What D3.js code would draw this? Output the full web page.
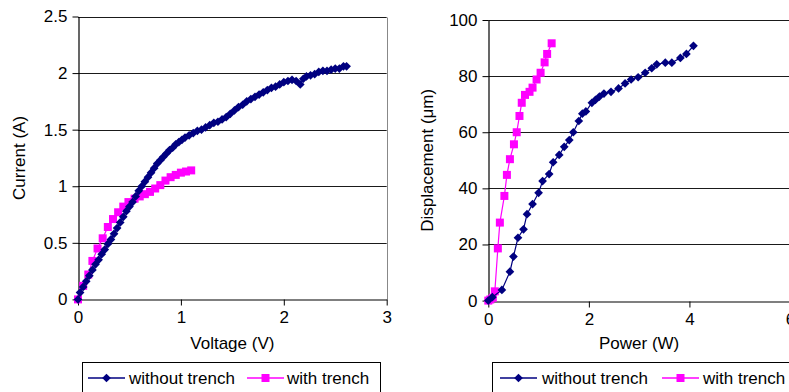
<!DOCTYPE html>
<html>
<head>
<meta charset="utf-8">
<script src="https://cdn.jsdelivr.net/npm/d3@7"></script>
<style>
  html, body { margin: 0; padding: 0; background: #fff; }
  svg { display: block; font-family: "Liberation Sans", Arial, Helvetica, sans-serif; }
</style>
</head>
<body>
<svg id="chart" width="789" height="392"></svg>
<script>
// ---- Current vs voltage ----
const ivWithout = [
  [0, 0], [0.02, 0.06], [0.05, 0.11], [0.08, 0.16], [0.11, 0.21], [0.14, 0.26],
  [0.17, 0.31], [0.20, 0.35], [0.23, 0.40], [0.26, 0.44], [0.29, 0.49], [0.32, 0.53],
  [0.35, 0.58], [0.38, 0.63], [0.41, 0.68], [0.44, 0.73], [0.47, 0.78], [0.50, 0.82],
  [0.53, 0.86], [0.56, 0.91], [0.59, 0.96], [0.62, 1.00], [0.65, 1.04], [0.68, 1.08],
  [0.71, 1.12], [0.74, 1.16], [0.77, 1.20], [0.80, 1.23], [0.83, 1.26], [0.86, 1.29],
  [0.89, 1.32], [0.92, 1.34], [0.95, 1.37], [0.98, 1.39], [1.01, 1.41], [1.04, 1.43],
  [1.08, 1.45], [1.12, 1.47], [1.16, 1.49], [1.20, 1.50], [1.24, 1.52], [1.28, 1.54],
  [1.32, 1.56], [1.36, 1.57], [1.40, 1.59], [1.44, 1.61], [1.48, 1.64], [1.52, 1.67],
  [1.56, 1.70], [1.60, 1.72], [1.64, 1.75], [1.68, 1.77], [1.72, 1.79], [1.76, 1.81],
  [1.80, 1.83], [1.84, 1.85], [1.88, 1.87], [1.92, 1.88], [1.96, 1.90], [2.00, 1.92],
  [2.04, 1.93], [2.08, 1.94], [2.12, 1.93], [2.16, 1.90], [2.19, 1.95], [2.22, 1.97],
  [2.26, 1.98], [2.30, 1.99], [2.34, 2.01], [2.38, 2.02], [2.42, 2.02], [2.46, 2.03],
  [2.50, 2.04], [2.54, 2.04], [2.58, 2.06], [2.61, 2.06]
];
const ivWith = [
  [0, 0], [0.05, 0.12], [0.10, 0.22], [0.14, 0.34], [0.19, 0.45], [0.24, 0.54],
  [0.29, 0.64], [0.34, 0.71], [0.39, 0.77], [0.44, 0.82], [0.49, 0.86], [0.55, 0.89],
  [0.60, 0.91], [0.65, 0.93], [0.70, 0.95], [0.75, 0.98], [0.80, 1.01], [0.85, 1.05],
  [0.90, 1.08], [0.95, 1.10], [1.00, 1.12], [1.05, 1.13], [1.10, 1.14]
];
const voltageTicks = [0, 1, 2, 3];
const currentTicks = [0, 0.5, 1, 1.5, 2, 2.5];

// ---- Displacement vs power ----
const pdWithout = [
  [0, 0], [0.08, 1.2], [0.27, 3.8], [0.43, 10.3], [0.50, 15.7], [0.59, 22.4],
  [0.70, 25.4], [0.77, 30.8], [0.88, 34.4], [1.00, 38.4], [1.08, 42.6], [1.21, 45.1],
  [1.29, 49.3], [1.41, 51.9], [1.51, 54.8], [1.61, 57.2], [1.69, 60.0], [1.80, 64.0],
  [1.87, 66.6], [1.94, 67.4], [2.06, 70.5], [2.13, 71.5], [2.21, 72.7], [2.30, 73.8],
  [2.44, 74.4], [2.59, 75.6], [2.72, 77.4], [2.84, 78.8], [2.98, 79.6], [3.12, 81.2],
  [3.25, 82.8], [3.35, 84.2], [3.52, 84.8], [3.65, 84.8], [3.82, 86.5], [3.94, 87.9],
  [4.08, 90.8]
];
const pdWith = [
  [0, 0], [0.04, 0.4], [0.09, 1.0], [0.13, 3.3], [0.19, 18.6], [0.23, 27.8],
  [0.32, 37.3], [0.37, 44.8], [0.43, 50.4], [0.51, 55.7], [0.565, 60.0], [0.62, 65.8],
  [0.665, 70.5], [0.73, 73.3], [0.82, 74.4], [0.88, 75.9], [0.96, 78.8], [1.04, 81.2],
  [1.12, 84.9], [1.17, 87.9], [1.26, 91.7]
];
const powerTicks = [0, 2, 4, 6];
const displacementTicks = [0, 20, 40, 60, 80, 100];

const seriesNames = ["without trench", "with trench"];
const NAVY = "#000080";
const MAGENTA = "#FF00FF";
const FONT = 17;
const fmt = d3.format("~g");

const svg = d3.select("#chart");

function drawPanel(cfg) {
  const g = svg.append("g");
  const x = d3.scaleLinear().domain(cfg.xDomain).range([cfg.left, cfg.right]);
  const y = d3.scaleLinear().domain(cfg.yDomain).range([cfg.bottom, cfg.top]);

  // horizontal gridlines
  g.append("g").selectAll("line").data(cfg.yTicks.filter(d => d !== cfg.yDomain[0])).join("line")
    .attr("x1", cfg.left).attr("x2", cfg.right)
    .attr("y1", d => Math.round(y(d)) + 0.5).attr("y2", d => Math.round(y(d)) + 0.5)
    .attr("stroke", "#1a1a1a").attr("stroke-width", 1);

  // right border of plot area
  g.append("line")
    .attr("x1", Math.round(cfg.right) + 0.5).attr("x2", Math.round(cfg.right) + 0.5)
    .attr("y1", Math.round(y(cfg.yDomain[1])) + 0.5).attr("y2", Math.round(y(cfg.yDomain[0])) + 0.5)
    .attr("stroke", "#888").attr("stroke-width", 1);

  // axes
  const yAxis = d3.axisLeft(y).tickValues(cfg.yTicks).tickFormat(fmt)
    .tickSize(6).tickPadding(5).tickSizeOuter(0);
  const xAxis = d3.axisBottom(x).tickValues(cfg.xTicks).tickFormat(fmt)
    .tickSize(6).tickPadding(5).tickSizeOuter(0);
  const ya = g.append("g").attr("transform", `translate(${Math.round(cfg.left) + 0.5},0)`).call(yAxis);
  const xa = g.append("g").attr("transform", `translate(0,${Math.round(cfg.bottom) + 0.5})`).call(xAxis);
  [ya, xa].forEach(a => {
    a.select(".domain").attr("stroke", "#000").attr("stroke-width", 1.2);
    a.selectAll(".tick line").attr("stroke", "#000");
    a.selectAll(".tick text").attr("fill", "#000").attr("font-size", FONT)
      .attr("font-family", "Liberation Sans, Arial, sans-serif");
  });

  // axis titles
  g.append("text")
    .attr("x", (cfg.left + cfg.right) / 2).attr("y", cfg.xTitleY)
    .attr("text-anchor", "middle").attr("font-size", FONT).text(cfg.xTitle);
  g.append("text")
    .attr("transform", `translate(${cfg.yTitleX},${(cfg.top + cfg.bottom) / 2}) rotate(-90)`)
    .attr("text-anchor", "middle").attr("font-size", FONT).text(cfg.yTitle);

  const line = d3.line().x(d => x(d[0])).y(d => y(d[1]));
  const diamond = d3.symbol(d3.symbolSquare, 38);
  const square = d3.symbol(d3.symbolSquare, 64);

  // with trench (drawn first, underneath)
  g.append("path").datum(cfg.withData).attr("d", line)
    .attr("fill", "none").attr("stroke", MAGENTA).attr("stroke-width", 1.2);
  g.append("g").selectAll("path").data(cfg.withData).join("path")
    .attr("d", square).attr("fill", MAGENTA)
    .attr("transform", d => `translate(${x(d[0])},${y(d[1])})`);

  // without trench
  g.append("path").datum(cfg.withoutData).attr("d", line)
    .attr("fill", "none").attr("stroke", NAVY).attr("stroke-width", 1.2);
  g.append("g").selectAll("path").data(cfg.withoutData).join("path")
    .attr("d", diamond).attr("fill", NAVY)
    .attr("transform", d => `translate(${x(d[0])},${y(d[1])}) rotate(45)`);

  // legend
  const lg = g.append("g");
  lg.append("rect")
    .attr("x", cfg.legendX + 0.5).attr("y", 362.5)
    .attr("width", cfg.legendW).attr("height", 40)
    .attr("fill", "#fff").attr("stroke", "#000").attr("stroke-width", 1);
  const ly = 378;
  const L = cfg.legendOffsets;
  const items = [
    { name: seriesNames[0], color: NAVY, sym: diamond, rot: 45, x0: cfg.legendX + L[0], tx: cfg.legendX + L[1] },
    { name: seriesNames[1], color: MAGENTA, sym: square, rot: 0, x0: cfg.legendX + L[2], tx: cfg.legendX + L[3] }
  ];
  items.forEach(it => {
    lg.append("line").attr("x1", it.x0).attr("x2", it.x0 + 37).attr("y1", ly).attr("y2", ly)
      .attr("stroke", it.color).attr("stroke-width", 1.5);
    lg.append("path").attr("d", it.sym).attr("fill", it.color)
      .attr("transform", `translate(${it.x0 + 18.5},${ly}) rotate(${it.rot})`);
    lg.append("text").attr("x", it.tx).attr("y", ly + 6).attr("font-size", FONT).text(it.name);
  });
}

drawPanel({
  left: 78, right: 386.7, top: 16.5, bottom: 299.4,
  xDomain: [0, 3], yDomain: [0, 2.5], xTicks: voltageTicks, yTicks: currentTicks,
  xTitle: "Voltage (V)", yTitle: "Current (A)", xTitleY: 349, yTitleX: 25,
  withData: ivWith, withoutData: ivWithout, legendX: 82, legendW: 298,
  legendOffsets: [6, 47, 165, 205]
});

drawPanel({
  left: 488.3, right: 790, top: 20, bottom: 300.6,
  xDomain: [0, 6], yDomain: [0, 100], xTicks: powerTicks, yTicks: displacementTicks,
  xTitle: "Power (W)", yTitle: "Displacement (\u03bcm)", xTitleY: 349, yTitleX: 433,
  withData: pdWith, withoutData: pdWithout, legendX: 492, legendW: 310,
  legendOffsets: [8, 50, 170, 211]
});
</script>
</body>
</html>
